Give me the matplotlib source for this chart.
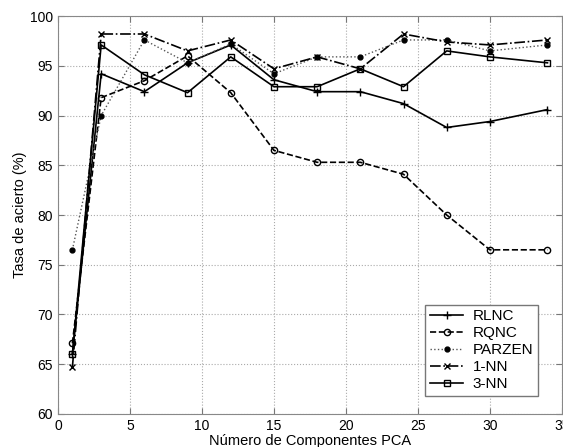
import matplotlib
matplotlib.use("Agg")
import matplotlib.pyplot as plt

plt.rcParams['font.family'] = ['Liberation Sans', 'DejaVu Sans']

n_comp = [1, 3, 6, 9, 12, 15, 18, 21, 24, 27, 30, 34]

rlnc = [66.0, 94.2, 92.4, 95.3, 97.1, 93.6, 92.4, 92.4, 91.2, 88.8, 89.4, 90.6]
rqnc = [67.1, 91.8, 93.5, 96.0, 92.3, 86.5, 85.3, 85.3, 84.1, 80.0, 76.5, 76.5]
parzen = [76.5, 90.0, 97.6, 95.3, 97.2, 94.2, 95.9, 95.9, 97.6, 97.6, 96.5, 97.1]
nn1 = [64.7, 98.2, 98.2, 96.5, 97.6, 94.7, 95.9, 94.7, 98.2, 97.4, 97.1, 97.6]
nn3 = [66.0, 97.1, 94.1, 92.3, 95.9, 92.9, 92.9, 94.7, 92.9, 96.5, 95.9, 95.3]

fig = plt.figure(figsize=(5.63, 4.47), dpi=100)
ax = fig.add_axes([0.103, 0.074, 0.895, 0.890])

lw = 1.2
ax.plot(n_comp, rlnc, '-', color='black', lw=lw, marker='+', ms=6, mew=1, label='RLNC')
ax.plot(n_comp, rqnc, '--', color='black', lw=lw, marker='o', ms=4.5, mfc='none', mew=1, label='RQNC')
ax.plot(n_comp, parzen, ':', color='#555555', lw=1.0, marker='o', ms=3.5, mfc='black', mec='black', label='PARZEN')
ax.plot(n_comp, nn1, '-.', color='black', lw=lw, marker='x', ms=4, mew=1, label='1-NN')
ax.plot(n_comp, nn3, '-', color='black', lw=lw, marker='s', ms=4.5, mfc='none', mew=1, label='3-NN')

ax.set_xlim(0, 35)
ax.set_ylim(60, 100)
ax.set_xticks(range(0, 36, 5))
ax.set_yticks(range(60, 101, 5))
ax.grid(True, linestyle=':', color='#aaaaaa', lw=0.8)
ax.tick_params(direction='in', labelsize=10, length=4, top=True, right=True, color='#777777')
for s in ax.spines.values():
    s.set_color('#888888')

ax.set_xlabel('Número de Componentes PCA', fontsize=10.5, labelpad=1)
ax.set_ylabel('Tasa de acierto (%)', fontsize=10.5, labelpad=2)

leg = ax.legend(loc='lower right', fontsize=11, fancybox=False, framealpha=1,
                edgecolor='#777777', handlelength=2.2, borderpad=0.3,
                labelspacing=0.2, handletextpad=0.6, borderaxespad=0,
                bbox_to_anchor=(0.952, 0.045))
leg.get_frame().set_linewidth(1.0)

fig.savefig('out.png', dpi=100)
